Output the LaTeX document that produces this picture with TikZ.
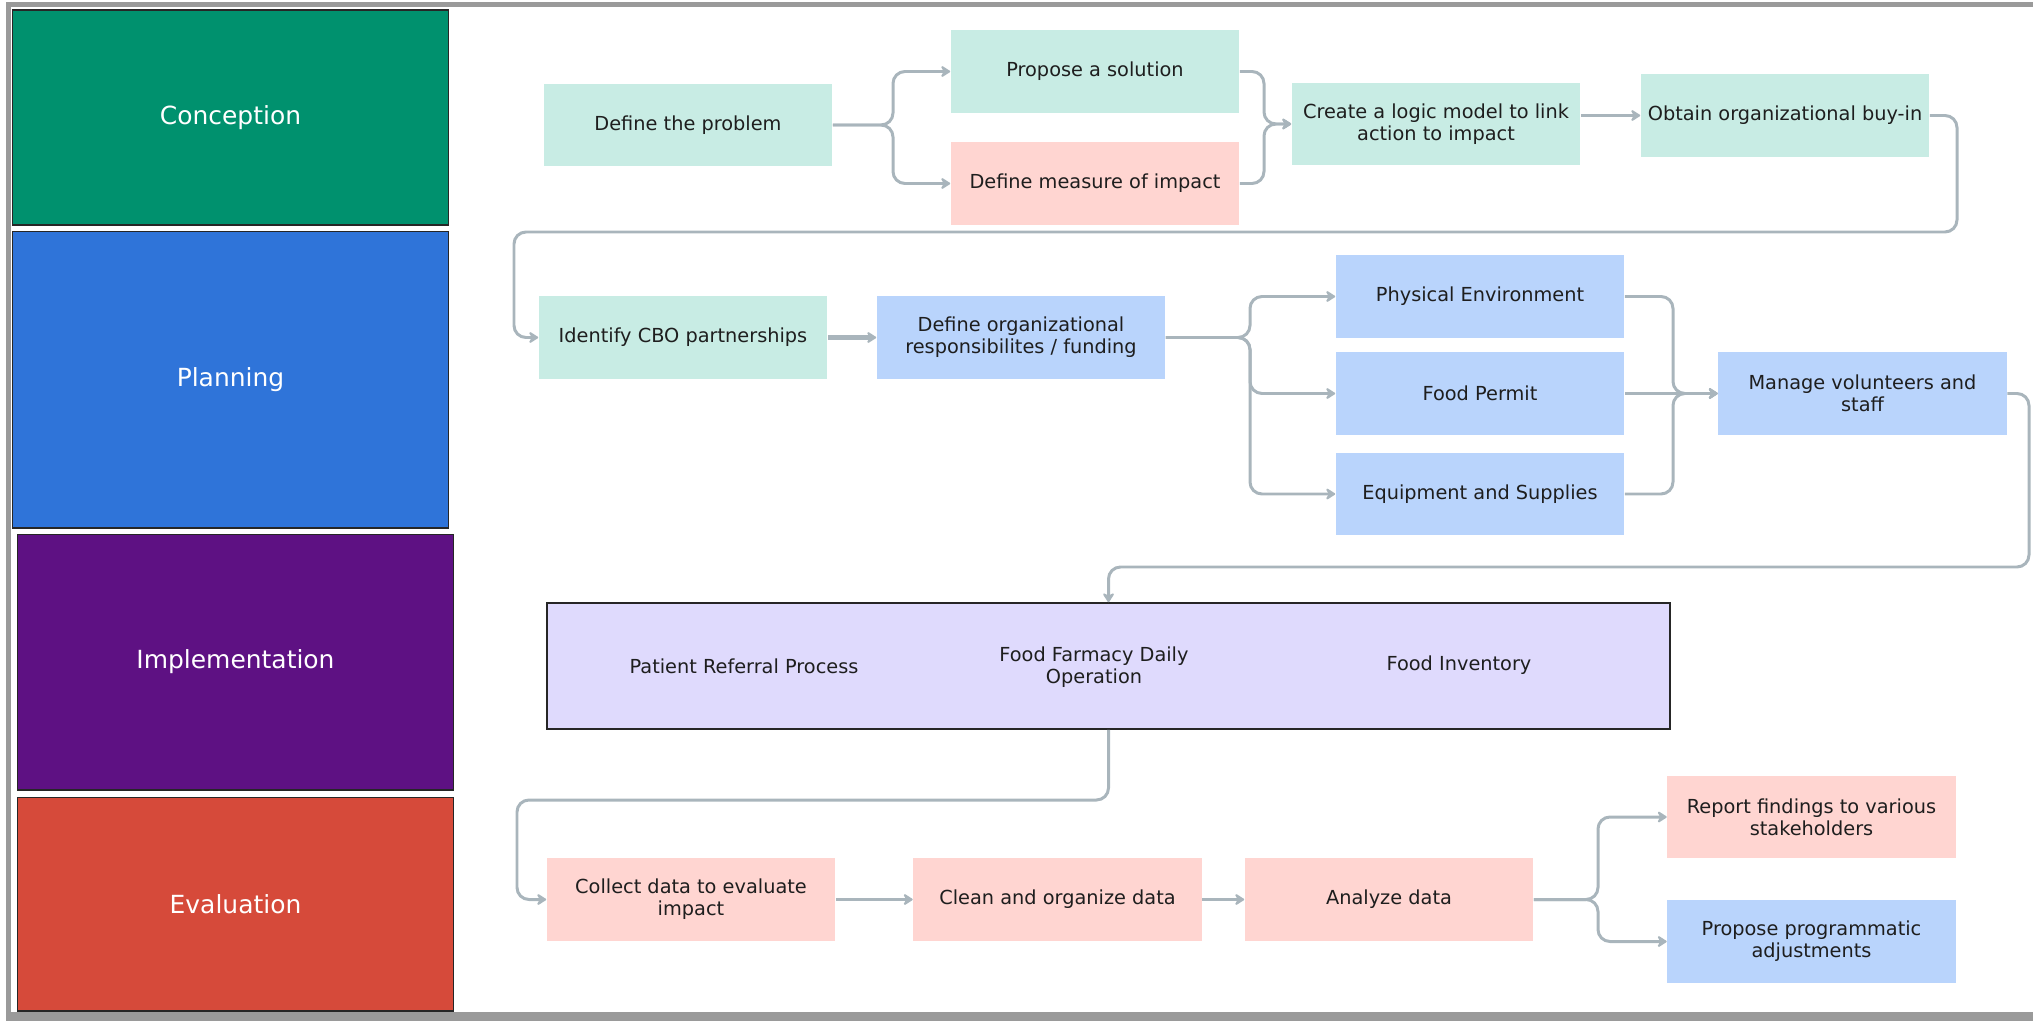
\documentclass[tikz,border=0pt]{standalone}
\usepackage{fontspec}
\setmainfont{DejaVu Sans}
\usetikzlibrary{arrows.meta,positioning,calc}
\definecolor{mint}{HTML}{C8ECE4}
\definecolor{pinkb}{HTML}{FFD5D1}
\definecolor{blueb}{HTML}{B9D4FC}
\definecolor{lav}{HTML}{DFDAFD}
\definecolor{conc}{HTML}{00916E}
\definecolor{plan}{HTML}{2F74D9}
\definecolor{impc}{HTML}{5E1183}
\definecolor{evac}{HTML}{D64A3A}
\definecolor{conn}{HTML}{A9B5BC}
\definecolor{frame}{HTML}{9A9A9A}
\definecolor{txt}{HTML}{1E1E1E}
\tikzset{
  box/.style={rectangle, minimum width=5.78cm, minimum height=1.66cm, inner sep=0pt,
    align=center, text=txt, font=\fontsize{11}{12.4}\selectfont},
  phase/.style={rectangle, draw=black!85, line width=0.6pt, inner sep=0pt,
    text=white, font=\fontsize{14.2}{17}\selectfont},
  arr/.style={draw=conn, line width=1.7pt, rounded corners=0.24cm,
    -{Stealth[length=0.22cm,width=0.28cm,round]}},
}
\begin{document}
\begin{tikzpicture}[x=0.02cm,y=-0.02cm]
\useasboundingbox (0,0) rectangle (2033,1021);
% frame
\fill[frame] (6,2) rectangle (2033,7);
\fill[frame] (6,2) rectangle (11,1021);
\fill[frame] (6,1012) rectangle (2033,1021);
% phases
\node[phase, fill=conc, minimum width=8.74cm, minimum height=4.30cm] (pc) at (230.5,117.5) {Conception};
\node[phase, fill=plan, minimum width=8.74cm, minimum height=5.94cm] (pp) at (230.5,379.5) {Planning};
\node[phase, fill=impc, minimum width=8.74cm, minimum height=5.12cm] (pi) at (235.5,662) {Implementation};
\node[phase, fill=evac, minimum width=8.74cm, minimum height=4.28cm] (pe) at (235.5,904) {Evaluation};
% row 1
\node[box, fill=mint] (prob) at (688,125) {Define the problem};
\node[box, fill=mint] (prop) at (1095,71.5) {Propose a solution};
\node[box, fill=pinkb] (meas) at (1095,183.5) {Define measure of impact};
\node[box, fill=mint] (logic) at (1436,124) {Create a logic model to link\\action to impact};
\node[box, fill=mint] (buyin) at (1785,115.5) {Obtain organizational buy-in};
% row 2
\node[box, fill=mint] (cbo) at (683,337.5) {Identify CBO partnerships};
\node[box, fill=blueb] (org) at (1021,337.5) {Define organizational\\responsibilites / funding};
\node[box, fill=blueb] (phys) at (1480,296.5) {Physical Environment};
\node[box, fill=blueb] (permit) at (1480,393.5) {Food Permit};
\node[box, fill=blueb] (equip) at (1480,494) {Equipment and Supplies};
\node[box, fill=blueb] (manage) at (1862.5,393.5) {Manage volunteers and\\staff};
% implementation
\node[rectangle, draw=black!85, line width=0.9pt, fill=lav, minimum width=22.46cm, minimum height=2.52cm, inner sep=0pt] (impl) at (1108.5,666) {};
\node[box, minimum width=0pt, minimum height=0pt] (ref) at (744,666) {Patient Referral Process};
\node[box, minimum width=0pt, minimum height=0pt] (daily) at (1094,667) {Food Farmacy Daily\\Operation};
\node[box, minimum width=0pt, minimum height=0pt] (inv) at (1459,665) {Food Inventory};
% row 4
\node[box, fill=pinkb] (collect) at (691,899.5) {Collect data to evaluate\\impact};
\node[box, fill=pinkb] (clean) at (1057.5,899.5) {Clean and organize data};
\node[box, fill=pinkb] (analyze) at (1389,899.5) {Analyze data};
\node[box, fill=pinkb] (report) at (1811.5,817) {Report findings to various\\stakeholders};
\node[box, fill=blueb] (adjust) at (1811.5,941.5) {Propose programmatic\\adjustments};
% connector helper coordinates
\coordinate (s1) at (893,0);
\coordinate (m1) at (1264,0);
\coordinate (r1) at (1957,232);
\coordinate (l1) at (514,232);
\coordinate (s2) at (1250,0);
\coordinate (m2) at (1673,0);
\coordinate (r2) at (2029,567);
\coordinate (l2) at (517,800);
\coordinate (s3) at (1598,0);
% connectors
\draw[arr] (prob.east) -| (s1 |- prop.west) -- (prop.west);
\draw[arr] (prob.east) -| (s1 |- meas.west) -- (meas.west);
\draw[arr] (prop.east) -| (m1 |- logic.west) -- (logic.west);
\draw[arr] (meas.east) -| (m1 |- logic.west) -- (logic.west);
\draw[arr] (logic.east |- buyin.west) -- (buyin.west);
\draw[arr] (buyin.east) -| (r1) -| (l1 |- cbo.west) -- (cbo.west);
\draw[arr, line width=2.6pt] (cbo.east) -- (org.west);
\draw[arr] (org.east) -| (s2 |- phys.west) -- (phys.west);
\draw[arr] (org.east) -| (s2 |- permit.west) -- (permit.west);
\draw[arr] (org.east) -| (s2 |- equip.west) -- (equip.west);
\draw[arr] (phys.east) -| (m2 |- manage.west) -- (manage.west);
\draw[arr] (equip.east) -| (m2 |- manage.west) -- (manage.west);
\draw[arr] (permit.east) -- (manage.west);
\draw[arr] (manage.east) -| (r2) -| (impl.north);
\draw[arr] (impl.south) |- (l2) |- (collect.west);
\draw[arr] (collect.east) -- (clean.west);
\draw[arr] (clean.east) -- (analyze.west);
\draw[arr] (analyze.east) -| (s3 |- report.west) -- (report.west);
\draw[arr] (analyze.east) -| (s3 |- adjust.west) -- (adjust.west);
\end{tikzpicture}
\end{document}
